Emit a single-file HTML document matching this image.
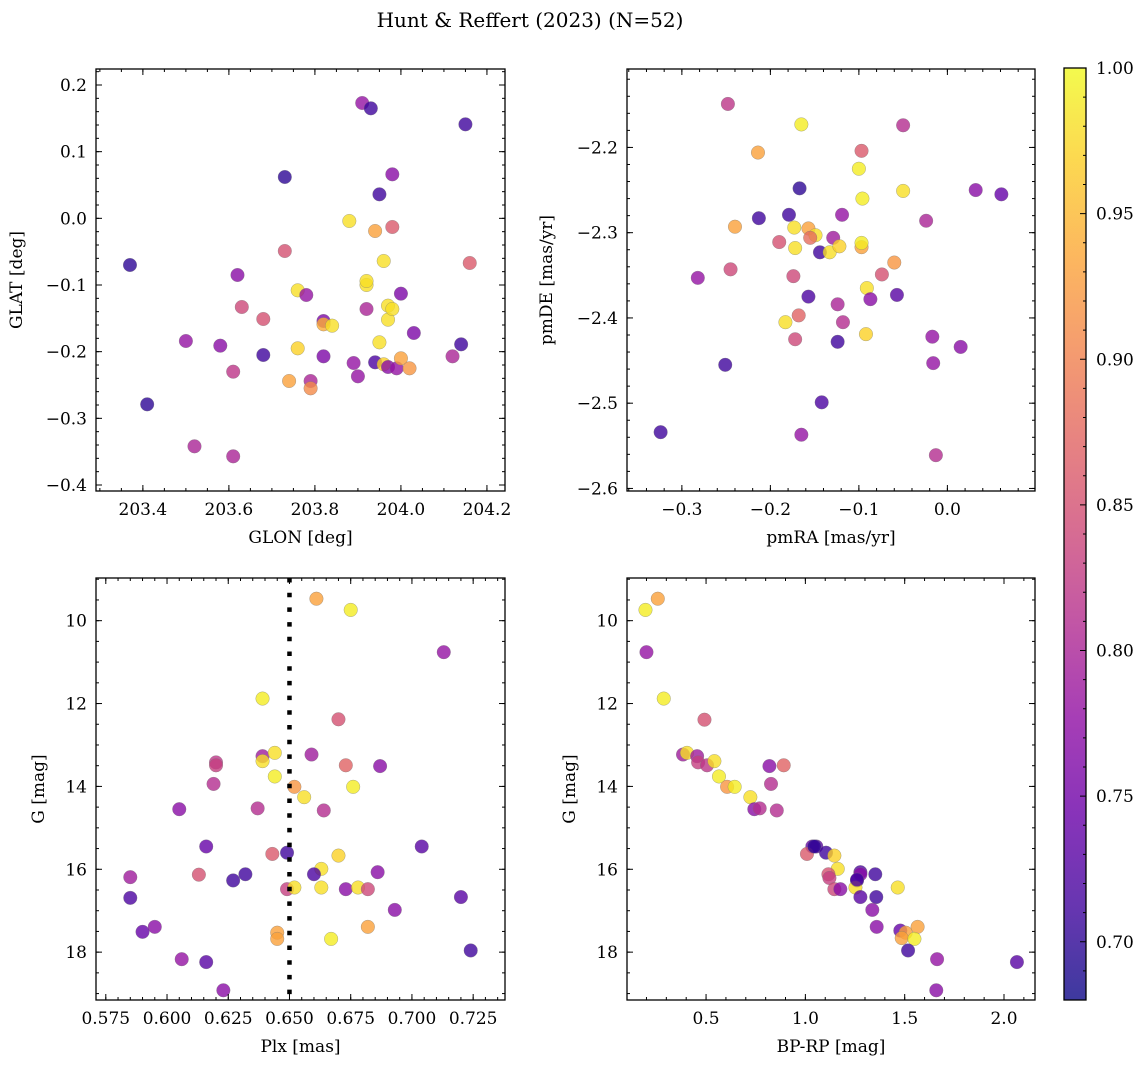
<!DOCTYPE html>
<html><head><meta charset="utf-8">
<style>
body{margin:0;background:#fff;}
svg{display:block;font-family:"DejaVu Serif","Liberation Serif",serif;}
</style></head>
<body>
<svg id="fig" width="1148" height="1068" viewBox="0 0 1148 1068" xmlns="http://www.w3.org/2000/svg">
<text x="530" y="27" font-size="20" text-anchor="middle">Hunt &amp; Reffert (2023) (N=52)</text>
</svg>
<script>
// ---- data ----
const glon=[203.37,203.41,203.50,203.52,203.58,203.61,203.61,203.62,203.63,203.68,203.68,203.73,203.73,203.74,203.76,203.76,203.78,203.79,203.79,203.82,203.82,203.82,203.84,203.88,203.89,203.90,203.91,203.92,203.92,203.92,203.93,203.94,203.94,203.95,203.95,203.96,203.96,203.97,203.97,203.97,203.98,203.98,203.98,203.99,204.00,204.00,204.02,204.03,204.12,204.14,204.15,204.16];
const glat=[-0.07,-0.279,-0.184,-0.342,-0.191,-0.357,-0.23,-0.085,-0.133,-0.205,-0.151,0.062,-0.049,-0.244,-0.195,-0.108,-0.115,-0.244,-0.255,-0.154,-0.159,-0.207,-0.161,-0.004,-0.217,-0.237,0.173,-0.136,-0.1,-0.094,0.165,-0.019,-0.216,0.036,-0.186,-0.219,-0.064,-0.152,-0.223,-0.131,-0.013,0.066,-0.136,-0.225,-0.113,-0.21,-0.225,-0.172,-0.207,-0.189,0.141,-0.067];
const probTL=[0.70,0.70,0.78,0.80,0.77,0.80,0.82,0.77,0.84,0.71,0.85,0.70,0.85,0.93,0.97,0.98,0.78,0.80,0.91,0.76,0.94,0.76,0.98,0.98,0.78,0.78,0.78,0.80,0.98,0.98,0.71,0.93,0.72,0.71,0.98,0.97,0.98,0.98,0.77,0.98,0.86,0.77,0.98,0.78,0.76,0.93,0.92,0.76,0.80,0.71,0.71,0.86];

const pmra=[-0.248,-0.165,-0.050,-0.214,-0.097,-0.100,-0.167,-0.096,-0.050,0.032,0.061,-0.213,-0.179,-0.119,-0.024,-0.240,-0.173,-0.157,-0.149,-0.155,-0.129,-0.190,-0.172,-0.144,-0.133,-0.122,-0.097,-0.097,-0.060,-0.074,-0.245,-0.282,-0.174,-0.091,-0.157,-0.087,-0.057,-0.124,-0.168,-0.183,-0.118,-0.092,-0.172,-0.124,-0.017,0.015,-0.016,-0.251,-0.142,-0.324,-0.165,-0.013];
const pmde=[-2.149,-2.173,-2.174,-2.206,-2.204,-2.225,-2.248,-2.260,-2.251,-2.250,-2.255,-2.283,-2.279,-2.279,-2.286,-2.293,-2.294,-2.295,-2.303,-2.306,-2.306,-2.311,-2.318,-2.323,-2.323,-2.316,-2.317,-2.312,-2.335,-2.349,-2.343,-2.353,-2.351,-2.365,-2.375,-2.378,-2.373,-2.384,-2.397,-2.405,-2.405,-2.419,-2.425,-2.428,-2.422,-2.434,-2.453,-2.455,-2.499,-2.534,-2.537,-2.561];
const probTR=[0.82,0.99,0.81,0.93,0.86,0.99,0.70,0.99,0.98,0.77,0.74,0.71,0.71,0.78,0.80,0.93,0.98,0.93,0.98,0.88,0.79,0.85,0.98,0.71,0.98,0.97,0.93,0.99,0.92,0.85,0.84,0.78,0.84,0.98,0.72,0.77,0.73,0.80,0.87,0.98,0.81,0.97,0.84,0.71,0.78,0.77,0.78,0.71,0.72,0.71,0.78,0.81];

const plx=[0.661,0.675,0.713,0.639,0.670,0.639,0.644,0.659,0.620,0.620,0.639,0.673,0.687,0.644,0.619,0.652,0.676,0.656,0.605,0.637,0.664,0.616,0.704,0.643,0.649,0.670,0.663,0.632,0.660,0.686,0.613,0.585,0.627,0.649,0.652,0.663,0.673,0.678,0.682,0.585,0.720,0.693,0.645,0.645,0.667,0.682,0.595,0.590,0.724,0.606,0.616,0.623];
const gmagBL=[9.47,9.74,10.76,11.88,12.38,13.27,13.19,13.23,13.42,13.49,13.39,13.49,13.51,13.76,13.94,14.01,14.01,14.26,14.55,14.53,14.58,15.45,15.45,15.63,15.60,15.67,15.99,16.12,16.12,16.07,16.13,16.19,16.27,16.48,16.44,16.44,16.48,16.44,16.48,16.69,16.67,16.98,17.53,17.68,17.68,17.39,17.39,17.51,17.96,18.17,18.24,18.92];
const probBL=[0.93,0.99,0.78,0.99,0.85,0.79,0.98,0.79,0.82,0.83,0.98,0.87,0.77,0.99,0.81,0.92,0.99,0.98,0.77,0.81,0.81,0.74,0.73,0.86,0.71,0.97,0.98,0.71,0.72,0.77,0.85,0.79,0.71,0.83,0.98,0.98,0.77,0.98,0.84,0.72,0.73,0.77,0.93,0.93,0.99,0.93,0.77,0.74,0.71,0.78,0.73,0.77];

const bprp=[0.195,0.257,0.200,0.287,0.492,0.384,0.404,0.455,0.460,0.505,0.542,0.565,0.606,0.644,0.723,0.743,0.770,0.819,0.891,0.827,0.856,1.035,1.055,1.008,1.104,1.146,1.163,1.116,1.121,1.277,1.352,1.277,1.260,1.146,1.176,1.252,1.465,1.277,1.357,1.337,1.359,1.478,1.505,1.565,1.485,1.549,1.517,1.663,2.065,1.659,1.045,1.260];
const gmagBR=[9.74,9.47,10.76,11.88,12.39,13.23,13.19,13.27,13.42,13.49,13.39,13.76,14.01,14.01,14.26,14.55,14.53,13.51,13.49,13.94,14.58,15.45,15.45,15.63,15.60,15.67,15.99,16.12,16.21,16.07,16.12,16.12,16.27,16.48,16.48,16.44,16.44,16.67,16.67,16.98,17.39,17.48,17.53,17.39,17.66,17.68,17.96,18.17,18.24,18.92,15.45,16.25];
const probBR=[0.99,0.93,0.78,0.99,0.85,0.79,0.98,0.79,0.83,0.82,0.98,0.99,0.92,0.99,0.98,0.77,0.81,0.77,0.87,0.81,0.81,0.74,0.73,0.86,0.71,0.97,0.98,0.85,0.83,0.72,0.71,0.77,0.71,0.84,0.77,0.98,0.98,0.73,0.71,0.77,0.77,0.74,0.93,0.93,0.93,0.99,0.71,0.78,0.73,0.77,0.70,0.72];

const cbTicks=[0.70,0.75,0.80,0.85,0.90,0.95,1.00];
const VMIN=0.68, VMAX=1.0;

// ---- helpers ----
const NS='http://www.w3.org/2000/svg';
const svg=document.getElementById('fig');
function mk(tag,attrs,parent){const e=document.createElementNS(NS,tag);for(const k in attrs)e.setAttribute(k,attrs[k]);(parent||svg).appendChild(e);return e;}
const stops=[[0,13,8,135],[0.1,65,4,157],[0.2,106,0,168],[0.3,143,13,164],[0.4,177,42,144],[0.5,204,71,120],[0.6,225,100,98],[0.7,242,132,75],[0.8,252,166,54],[0.9,252,206,37],[1,240,249,33]];
function plasma(t){t=Math.max(0,Math.min(1,t));for(let i=1;i<stops.length;i++){if(t<=stops[i][0]){const a=stops[i-1],b=stops[i];const f=(t-a[0])/(b[0]-a[0]);return `rgb(${Math.round(a[1]+f*(b[1]-a[1]))},${Math.round(a[2]+f*(b[2]-a[2]))},${Math.round(a[3]+f*(b[3]-a[3]))})`;}}return 'rgb(240,249,33)';}
function fmt(v,d){return (v<0?'\u2212':'')+Math.abs(v).toFixed(d);}
const TF=17, LF=17;

function panel(o){
  const g=mk('g',{});
  
  
  const sx=v=>o.L+(v-o.x0)/(o.x1-o.x0)*(o.R-o.L);
  const sy=v=>o.yInv? o.T+(v-o.y0)/(o.y1-o.y0)*(o.B-o.T) : o.B-(v-o.y0)/(o.y1-o.y0)*(o.B-o.T);
  for(let i=0;i<o.xs.length;i++){
    const c=mk('circle',{cx:sx(o.xs[i]),cy:sy(o.ys[i]),r:6.8,fill:plasma((o.ps[i]-VMIN)/(VMAX-VMIN)),'fill-opacity':0.8,stroke:'#777','stroke-width':0.5,'stroke-opacity':0.6},g);
    
    
  }
  if(o.vline!==undefined){
    const l=mk('line',{x1:sx(o.vline),x2:sx(o.vline),y1:o.T,y2:o.B,stroke:'#000','stroke-width':4.5,'stroke-dasharray':'4.5 10.2'},g);
    
    
  }
  const f=mk('rect',{x:o.L,y:o.T,width:o.R-o.L,height:o.B-o.T,fill:'none',stroke:'#000','stroke-width':1.3},g);
  
  
  const eps=1e-9;
  function ticks(a,b,step){const r=[];let s=Math.ceil((Math.min(a,b)-eps)/step);for(let v=s*step;v<=Math.max(a,b)+eps;v=(++s)*step)r.push(+v.toFixed(6));return r;}
  ticks(o.x0,o.x1,o.xminor).forEach(v=>{const x=sx(v);mk('line',{x1:x,x2:x,y1:o.B,y2:o.B-3,stroke:'#000'},g);mk('line',{x1:x,x2:x,y1:o.T,y2:o.T+3,stroke:'#000'},g);});
  ticks(o.y0,o.y1,o.yminor).forEach(v=>{const y=sy(v);mk('line',{x1:o.L,x2:o.L+3,y1:y,y2:y,stroke:'#000'},g);mk('line',{x1:o.R,x2:o.R-3,y1:y,y2:y,stroke:'#000'},g);});
  ticks(o.x0,o.x1,o.xmajor).forEach(v=>{const x=sx(v);mk('line',{x1:x,x2:x,y1:o.B,y2:o.B-6,stroke:'#000'},g);mk('line',{x1:x,x2:x,y1:o.T,y2:o.T+6,stroke:'#000'},g);
    const t=mk('text',{x:x,y:o.B+24,'font-size':TF,'text-anchor':'middle'},g);t.textContent=fmt(v,o.xd);
    
    });
  ticks(o.y0,o.y1,o.ymajor).forEach(v=>{const y=sy(v);mk('line',{x1:o.L,x2:o.L+6,y1:y,y2:y,stroke:'#000'},g);mk('line',{x1:o.R,x2:o.R-6,y1:y,y2:y,stroke:'#000'},g);
    const t=mk('text',{x:o.L-9,y:y+6,'font-size':TF,'text-anchor':'end'},g);t.textContent=fmt(v,o.yd);
    
    });
  const xl=mk('text',{x:(o.L+o.R)/2,y:o.B+52,'font-size':LF,'text-anchor':'middle'},g);xl.textContent=o.xlabel;
  
  
  const yx=o.ylx, yy=(o.T+o.B)/2;
  const yl=mk('text',{x:yx,y:yy,'font-size':LF,'text-anchor':'middle',transform:`rotate(-90 ${yx} ${yy})`},g);yl.textContent=o.ylabel;
  
  
}

panel({name:'glon-glat-panel',L:96,R:505,T:69,B:491,x0:203.291,x1:204.242,y0:-0.409,y1:0.224,xmajor:0.2,xminor:0.05,ymajor:0.1,yminor:0.02,xd:1,yd:1,xs:glon,ys:glat,ps:probTL,xlabel:'GLON [deg]',ylabel:'GLAT [deg]',ylx:22});
panel({name:'proper-motion-panel',L:627,R:1035,T:69,B:491,x0:-0.362,x1:0.099,y0:-2.603,y1:-2.108,xmajor:0.1,xminor:0.02,ymajor:0.1,yminor:0.02,xd:1,yd:1,xs:pmra,ys:pmde,ps:probTR,xlabel:'pmRA [mas/yr]',ylabel:'pmDE [mas/yr]',ylx:552});
panel({name:'parallax-panel',L:96,R:505,T:578,B:1000,x0:0.571,x1:0.738,y0:8.97,y1:19.155,yInv:true,xmajor:0.025,xminor:0.005,ymajor:2,yminor:0.5,xd:3,yd:0,xs:plx,ys:gmagBL,ps:probBL,xlabel:'Plx [mas]',ylabel:'G [mag]',ylx:44,vline:0.65});
panel({name:'cmd-panel',L:627,R:1035,T:578,B:1000,x0:0.102,x1:2.156,y0:8.97,y1:19.155,yInv:true,xmajor:0.5,xminor:0.1,ymajor:2,yminor:0.5,xd:1,yd:0,xs:bprp,ys:gmagBR,ps:probBR,xlabel:'BP-RP [mag]',ylabel:'G [mag]',ylx:575});

// colorbar
const cb=mk('g',{});


const CL=1064,CR=1086,CT=68,CB=1000;
const defs=mk('defs',{},cb);
const lg=mk('linearGradient',{id:'cbg',x1:0,y1:1,x2:0,y2:0},defs);
for(let i=0;i<=20;i++){mk('stop',{offset:i/20,'stop-color':plasma(i/20)},lg);}
mk('rect',{x:CL,y:CT,width:CR-CL,height:CB-CT,fill:'url(#cbg)','fill-opacity':0.8},cb);
mk('rect',{x:CL,y:CT,width:CR-CL,height:CB-CT,fill:'none',stroke:'#000','stroke-width':1.3},cb);
const cy=v=>CB-(v-VMIN)/(VMAX-VMIN)*(CB-CT);
for(let k=68;k<=100;k++){const v=k/100;const y=cy(v);const maj=(k%5===0);
  mk('line',{x1:CR,x2:CR-(maj?6:3),y1:y,y2:y,stroke:'#000'},cb);}
cbTicks.forEach(v=>{const t=mk('text',{x:CR+10,y:cy(v)+6,'font-size':TF},cb);t.textContent=v.toFixed(2);
  
  });
</script>
</body></html>
